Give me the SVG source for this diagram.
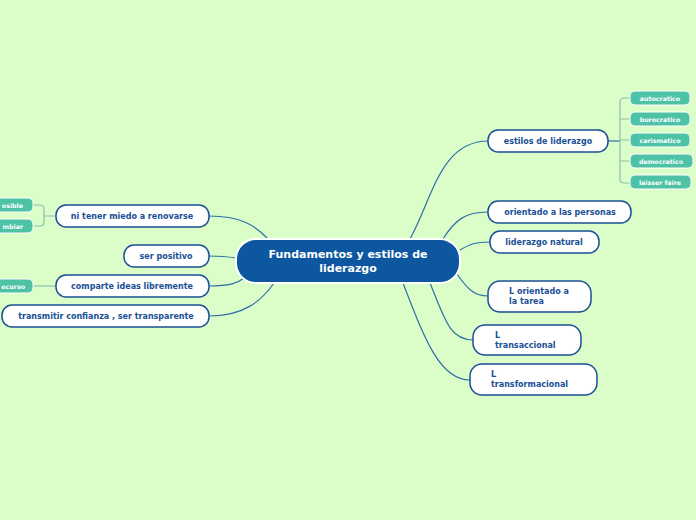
<svg xmlns="http://www.w3.org/2000/svg" width="696" height="520" viewBox="0 0 696 520">
<style>
.bg{fill:#dbfdc7}
.n{fill:#ffffff;stroke:#1a4f96;stroke-width:1.5}
.t{font-family:"DejaVu Sans",sans-serif;font-weight:bold;font-size:8px;fill:#1a4f96}
.s{fill:#4ec2a7;stroke:#ffffff;stroke-width:1}
.st{font-family:"DejaVu Sans",sans-serif;font-weight:bold;font-size:6.3px;fill:#ffffff}
.c{fill:none;stroke:#2f6fa8;stroke-width:1.2}
.cs{fill:none;stroke:#8fbfb0;stroke-width:1.2}
.ctr{fill:#0d56a0;stroke:#ffffff;stroke-width:2}
.ct{font-family:"DejaVu Sans",sans-serif;font-weight:bold;font-size:11px;fill:#ffffff}
</style>
<rect class="bg" x="0" y="0" width="696" height="520"/>
<g id="connectors">
<path class="c" d="M410,239 C432,200 440,141 488,141"/>
<path class="c" d="M443,239 C455,220 465,212 488,212"/>
<path class="c" d="M460,250 C470,244 476,242 490,242"/>
<path class="c" d="M457,274 C468,290 475,296 488,296"/>
<path class="c" d="M430,283 C445,320 450,340 473,340"/>
<path class="c" d="M403,283 C425,340 440,380 470,380"/>
<path class="c" d="M209,216 C240,216 255,225 268,239"/>
<path class="c" d="M209,256 C222,256 230,257 236,258"/>
<path class="c" d="M209,286 C230,286 238,283 244,278"/>
<path class="c" d="M209,316 C245,316 262,300 274,283"/>
<path class="cs" d="M56,216 L44,216 M33,205 L40,205 Q44,205 44,209 L44,222 Q44,226 40,226 L33,226"/>
<path class="cs" d="M56,286 L33,286"/>
<path class="c" d="M608,141 L620,141"/>
<path class="cs" d="M630,98 L624,98 Q620,98 620,102 L620,179 Q620,183 624,183 L630,183 M620,119 L630,119 M620,140 L630,140 M620,161 L630,161"/>
</g>
<g id="center">
<rect class="ctr" x="236" y="239" width="224" height="44" rx="20"/>
<text class="ct" x="348" y="258" text-anchor="middle">Fundamentos y estilos de</text>
<text class="ct" x="348" y="272" text-anchor="middle">liderazgo</text>
</g>
<g id="n-estilos"><rect class="n" x="488" y="130" width="120" height="22" rx="10"/><text class="t" x="548" y="144" text-anchor="middle">estilos de liderazgo</text></g>
<g id="n-personas"><rect class="n" x="488" y="201" width="143" height="22" rx="10"/><text class="t" x="560" y="215" text-anchor="middle">orientado a las personas</text></g>
<g id="n-natural"><rect class="n" x="490" y="231" width="109" height="22" rx="10"/><text class="t" x="544" y="245" text-anchor="middle">liderazgo natural</text></g>
<g id="n-tarea"><rect class="n" x="488" y="281" width="103" height="31" rx="12"/><text class="t" x="509" y="294">L orientado a</text><text class="t" x="509" y="304">la tarea</text></g>
<g id="n-transaccional"><rect class="n" x="473" y="325" width="108" height="30" rx="12"/><text class="t" x="495" y="338">L</text><text class="t" x="495" y="348">transaccional</text></g>
<g id="n-transformacional"><rect class="n" x="470" y="364" width="127" height="31" rx="12"/><text class="t" x="491" y="377">L</text><text class="t" x="491" y="387">transformacional</text></g>
<g id="n-renovarse"><rect class="n" x="56" y="205" width="153" height="22" rx="10"/><text class="t" x="132" y="219" text-anchor="middle">ni tener miedo a renovarse</text></g>
<g id="n-positivo"><rect class="n" x="124" y="245" width="85" height="22" rx="10"/><text class="t" x="166" y="259" text-anchor="middle">ser positivo</text></g>
<g id="n-comparte"><rect class="n" x="56" y="275" width="153" height="22" rx="10"/><text class="t" x="132" y="289" text-anchor="middle">comparte ideas libremente</text></g>
<g id="n-confianza"><rect class="n" x="2" y="305" width="207" height="22" rx="10"/><text class="t" x="106" y="319" text-anchor="middle">transmitir confianza , ser transparente</text></g>
<g id="s-osible"><rect class="s" x="-12" y="198" width="45" height="14" rx="5"/><text class="st" x="23" y="208" text-anchor="end">osible</text></g>
<g id="s-mbiar"><rect class="s" x="-12" y="219" width="45" height="14" rx="5"/><text class="st" x="23" y="229" text-anchor="end">mbiar</text></g>
<g id="s-ecurso"><rect class="s" x="-12" y="279" width="45" height="14" rx="5"/><text class="st" x="25" y="289" text-anchor="end">ecurso</text></g>
<g id="s-autocratico"><rect class="s" x="630" y="91" width="60" height="14" rx="5"/><text class="st" x="660" y="101" text-anchor="middle">autocratico</text></g>
<g id="s-burocratico"><rect class="s" x="630" y="112" width="60" height="14" rx="5"/><text class="st" x="660" y="122" text-anchor="middle">burocratico</text></g>
<g id="s-carismatico"><rect class="s" x="630" y="133" width="60" height="14" rx="5"/><text class="st" x="660" y="143" text-anchor="middle">carismatico</text></g>
<g id="s-democratico"><rect class="s" x="630" y="154" width="63" height="14" rx="5"/><text class="st" x="661" y="164" text-anchor="middle">democratico</text></g>
<g id="s-laisser"><rect class="s" x="630" y="175" width="61" height="14" rx="5"/><text class="st" x="660" y="185" text-anchor="middle">laisser faire</text></g>
</svg>
